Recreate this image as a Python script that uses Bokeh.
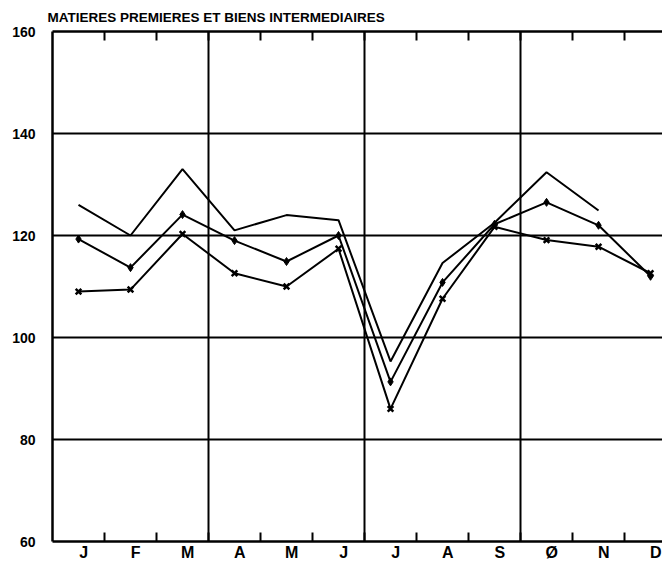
from bokeh.plotting import figure
from bokeh.models import FixedTicker, Range1d, Title, LinearAxis
from bokeh.embed import file_html
from bokeh.resources import INLINE

# ---- data ----
chart_title = "MATIERES PREMIERES ET BIENS INTERMEDIAIRES"
months = ["J", "F", "M", "A", "M", "J", "J", "A", "S", "Ø", "N", "D"]
series_plain = [126.0, 120.0, 133.0, 121.0, 124.0, 123.0, 95.3, 114.6, 122.5, 132.4, 124.9]
series_dot = [119.3, 113.7, 124.1, 119.0, 114.9, 120.0, 91.3, 110.8, 122.2, 126.5, 122.0, 112.0]
series_cross = [109.0, 109.4, 120.3, 112.6, 110.0, 117.4, 86.0, 107.6, 121.7, 119.1, 117.8, 112.6]
y_ticks = [60, 80, 100, 120, 140, 160]
y_labels = ["\u00a0\u00a060", "\u00a0\u00a080", "100", "120", "140", "160"]
y_grid = [80, 100, 120, 140]
quarter_bounds = [3, 6, 9]

# ---- positions derived from the data ----
n = len(months)
x_mid = [i + 0.5 for i in range(n)]
month_bounds = [i for i in range(1, n)]
label_pos = [i + 0.6 for i in range(n)]

FONT = "Liberation Sans"

p = figure(width=662, height=563, output_backend="svg", toolbar_location=None,
           x_range=Range1d(0, 11.73), y_range=Range1d(60, 160),
           min_border_left=52, min_border_right=0, min_border_top=31, min_border_bottom=0)
p.outline_line_color = None
p.background_fill_color = "white"
p.border_fill_color = "white"

# title
p.title = Title(text=chart_title, align="left", offset=-5,
                text_font_size="13.5px", text_font_style="bold", text_font=FONT,
                text_color="black", standoff=14)

# bottom axis: month letters + boundary ticks
xa = p.xaxis[0]
xa.ticker = FixedTicker(ticks=label_pos, minor_ticks=month_bounds)
xa.major_label_overrides = {lp: m for lp, m in zip(label_pos, months)}
xa.major_tick_in = 0
xa.major_tick_out = 0
xa.minor_tick_in = 9
xa.minor_tick_out = 0
xa.minor_tick_line_width = 2
xa.minor_tick_line_color = "black"
xa.axis_line_width = 2.5
xa.axis_line_color = "black"
xa.major_label_text_font = FONT
xa.major_label_text_font_style = "bold"
xa.major_label_text_font_size = "16px"
xa.major_label_text_color = "black"
xa.major_label_standoff = 2

# top axis: boundary ticks only
top = LinearAxis(ticker=FixedTicker(ticks=[], minor_ticks=month_bounds))
top.major_tick_in = 0
top.major_tick_out = 0
top.minor_tick_in = 9
top.minor_tick_out = 0
top.minor_tick_line_width = 2
top.minor_tick_line_color = "black"
top.axis_line_width = 2.5
top.axis_line_color = "black"
top.major_label_text_font_size = "0px"
top.major_label_standoff = 0
p.add_layout(top, "above")

# left axis
ya = p.yaxis[0]
ya.ticker = FixedTicker(ticks=y_ticks)
ya.major_label_overrides = {t: l for t, l in zip(y_ticks, y_labels)}
ya.major_tick_in = 0
ya.major_tick_out = 0
ya.minor_tick_line_color = None
ya.axis_line_width = 2.5
ya.axis_line_color = "black"
ya.major_label_text_font = FONT
ya.major_label_text_font_style = "bold"
ya.major_label_text_font_size = "14px"
ya.major_label_text_color = "black"
ya.major_label_standoff = 17

# grids
p.xgrid.ticker = FixedTicker(ticks=quarter_bounds)
p.ygrid.ticker = FixedTicker(ticks=y_grid)
for g in (p.xgrid[0], p.ygrid[0]):
    g.grid_line_color = "black"
    g.grid_line_width = 2
    g.grid_line_alpha = 1.0

# series
p.line(x_mid[:len(series_plain)], series_plain, line_color="black", line_width=2)
p.line(x_mid, series_dot, line_color="black", line_width=2)
p.scatter(x_mid, series_dot, marker="diamond", size=8, color="black")
p.line(x_mid, series_cross, line_color="black", line_width=2)
p.scatter(x_mid, series_cross, marker="x", size=8, line_color="black", line_width=2.5)

open("out.html", "w").write(file_html(p, INLINE))
